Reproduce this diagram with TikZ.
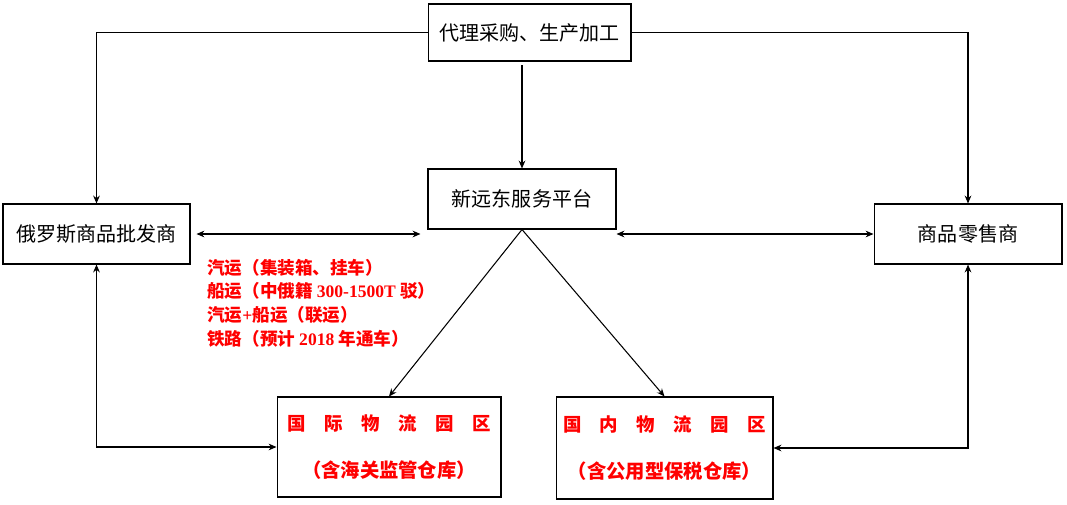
\documentclass[tikz,border=0pt]{standalone}
\usepackage{fontspec}
\setmainfont{Liberation Serif}
\newfontfamily\cjk{Noto Sans CJK SC}
\usetikzlibrary{arrows.meta, positioning, calc}

\begin{document}
\begin{tikzpicture}[x=0.02cm, y=-0.02cm,
    box/.style={draw, line width=0.6pt, inner sep=0pt, font=\cjk\fontsize{11.4}{14}\selectfont},
    park/.style={box, text=red, align=center, font=\cjk\bfseries\fontsize{10.5}{26.7}\selectfont},
    conn/.style={line width=0.6pt, -{Stealth[length=4.5pt,width=3.8pt]}},
    biconn/.style={line width=0.6pt, {Stealth[length=4.5pt,width=3.8pt]}-{Stealth[length=4.5pt,width=3.8pt]}}]
    \useasboundingbox (0,0) rectangle (1067,504);

    % Boxes
    \node[box, minimum width=4.06cm, minimum height=1.14cm] (agent)     at (529.5,32.5) {代理采购、生产加工};
    \node[box, minimum width=3.76cm, minimum height=1.2cm]  (platform)  at (522,199)    {新远东服务平台};
    \node[box, minimum width=3.74cm, minimum height=1.2cm]  (wholesale) at (96.5,234)   {俄罗斯商品批发商};
    \node[box, minimum width=3.76cm, minimum height=1.2cm]  (retail)    at (968,234)    {商品零售商};
    \node[park, minimum width=4.48cm, minimum height=2cm]   (intl)      at (389,447)
        {国　际　物　流　园　区\\{\fontsize{11}{26.7}\selectfont（含海关监管仓库）}};
    \node[park, minimum width=4.34cm, minimum height=2.04cm] (dom)      at (664.5,448)
        {国　内　物　流　园　区\\{\fontsize{11}{26.7}\selectfont（含公用型保税仓库）}};

    % Transport modes (red notes)
    \node[anchor=west, text=red, align=left, inner sep=0pt,
          font=\bfseries\fontsize{10}{13.4}\selectfont] (transport) at (207,303)
        {{\cjk 汽运（集装箱、挂车）}\\
         {\cjk 船运（中俄籍 }300-1500T {\cjk 驳）}\\
         {\cjk 汽运}+{\cjk 船运（联运）}\\
         {\cjk 铁路（预计 }2018 {\cjk 年通车）}};

    % Connectors
    \draw[conn] (agent.west) -| (wholesale.north);
    \draw[conn] (agent.east) -| (retail.north);
    \draw[conn, shorten <=2pt] (platform.north |- agent.south) -- (platform.north);
    \draw[biconn, shorten <=3.4pt, shorten >=4pt]
        (wholesale.east) -- (wholesale.east -| platform.west);
    \draw[biconn] (retail.west -| platform.east) -- (retail.west);
    \draw[conn] (platform.south) -- (intl.north);
    \draw[conn] (platform.south) -- (dom.north);
    \draw[biconn] (wholesale.south) |- (intl.west);
    \draw[biconn] (retail.south) |- (dom.east);
\end{tikzpicture}
\end{document}
